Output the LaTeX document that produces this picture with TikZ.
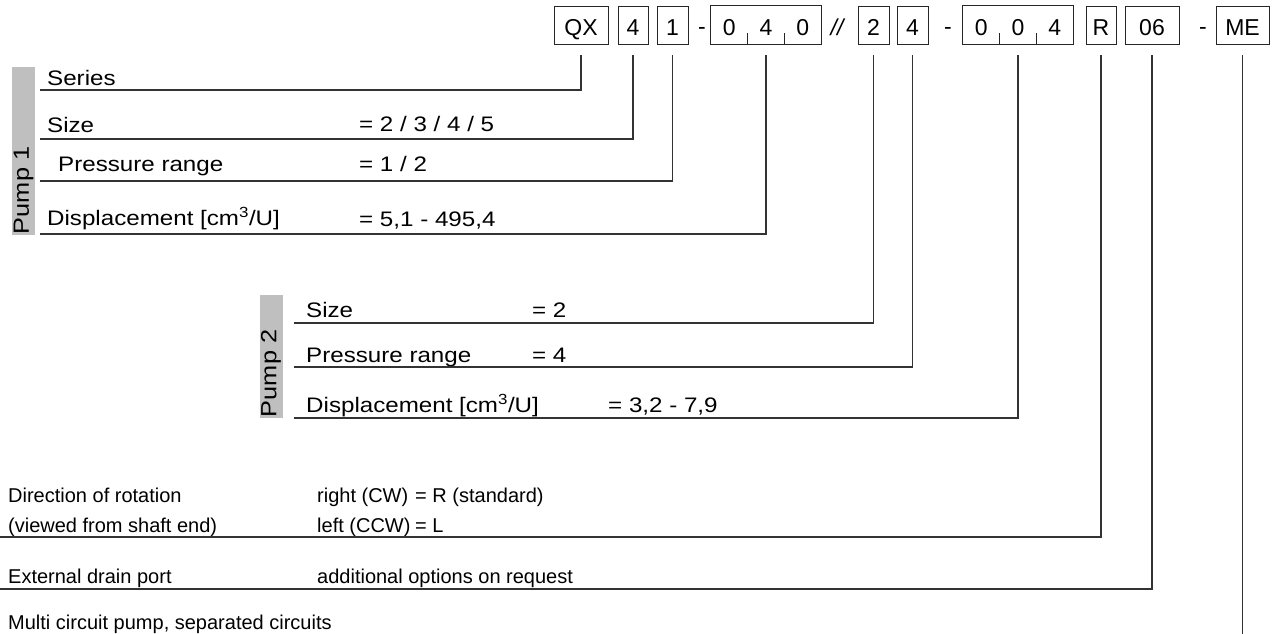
\documentclass[tikz,border=0pt]{standalone}
\usepackage{fontspec}
\setmainfont{Liberation Sans}
\newfontfamily\widefamily[FakeStretch=1.15]{Liberation Sans}
\usepackage{tikz}
\usetikzlibrary{positioning, calc}

\newcommand{\descfont}{\fontsize{20}{24}\selectfont}
\newcommand{\pumpfont}{\widefamily\fontsize{21}{25}\selectfont}
\newcommand{\tagfont}{\widefamily\fontsize{22}{26}\selectfont}
\newcommand{\codefont}{\fontsize{23}{27}\selectfont}

\begin{document}
\begin{tikzpicture}[
  x=1pt, y=-1pt,
  codebox/.style={draw=black!85, line width=0.9pt, minimum height=38pt, inner sep=0pt},
  digit/.style={minimum width=36.67pt, minimum height=38pt, inner sep=0pt},
  codetext/.style={anchor=base, inner sep=0pt, font=\codefont},
  desc/.style={anchor=base west, inner sep=0pt, font=\descfont},
  pdesc/.style={anchor=base west, inner sep=0pt, font=\pumpfont},
  leader/.style={draw=black!80, line width=1.1pt},
  pumpbar/.style={fill=black!25, rotate=90, minimum height=23pt, inner sep=1pt, align=left, font=\tagfont},
]
\useasboundingbox (0,0) rectangle (1272,634);

% Type code
\node[codebox, minimum width=54pt] (qx) at (581,25) {};
\node[codebox, minimum width=30pt] (sza) at (633,25) {};
\node[codebox, minimum width=31pt] (pra) at (672.5,25) {};
\node[codetext] (dasha) at (702,35) {-};
\foreach \x in {0,1,2} {
  \node[digit] (da\x) at (729.33+\x*36.67, 25) {};
}
\draw[draw=black!85, line width=0.9pt] (da0.north west) rectangle (da2.south east);
\foreach \x in {0,1} {
  \draw[draw=black!85, line width=0.9pt] (da\x.south east) -- ++(0,-11);
}
\node[codetext] (slash) at (838,36) {\textit{//}};
\node[codebox, minimum width=31pt] (szb) at (873.5,25) {};
\node[codebox, minimum width=31pt] (prb) at (912.5,25) {};
\node[codetext] (dashb) at (948,35) {-};
\foreach \x in {0,1,2} {
  \node[digit] (db\x) at (981.33+\x*36.67, 25) {};
}
\draw[draw=black!85, line width=0.9pt] (db0.north west) rectangle (db2.south east);
\foreach \x in {0,1} {
  \draw[draw=black!85, line width=0.9pt] (db\x.south east) -- ++(0,-11);
}
\node[codebox, minimum width=30pt] (rot) at (1101,25) {};
\node[codebox, minimum width=54pt] (drain) at (1152,25) {};
\node[codetext] (dashc) at (1203,35) {-};
\node[codebox, minimum width=53pt] (me) at (1242.5,25) {};

% box letters on a common baseline
\foreach \n/\val in {qx/QX,sza/4,pra/1,da0/0,da1/4,da2/0,szb/2,prb/4,db0/0,db1/0,db2/4,rot/R,drain/06,me/ME} {
  \node[codetext] at ([yshift=-11pt]\n.center) {\val};
}

% Pump 1
\node[pumpbar, text width=166pt] (pumpa) at (23.5,151) {Pump 1};
\node[pdesc] (series) at (47,85) {Series};
\node[pdesc] (sizea) at (47,132) {Size};
\node[pdesc] (sizeaval) at (359,131) {= 2 / 3 / 4 / 5};
\node[pdesc] (pressa) at (58,171) {Pressure range};
\node[pdesc] (pressaval) at (359,171) {= 1 / 2};
\node[pdesc] (dispa) at (47,225) {Displacement [cm\textsuperscript{3}/U]};
\node[pdesc] (dispaval) at (359,226) {= 5,1 - 495,4};
\coordinate (seriesL) at (40,90);
\coordinate (sizeaL) at (40,139);
\coordinate (pressaL) at (40,181);
\coordinate (dispaL) at (40,234);
\draw[leader] ([yshift=-11pt]qx.south) |- (seriesL);
\draw[leader] ([yshift=-11pt]sza.south) |- (sizeaL);
\draw[leader] ([yshift=-11pt]pra.south) |- (pressaL);
\draw[leader] ([yshift=-11pt]da1.south) |- (dispaL);

% Pump 2
\node[pumpbar, text width=121pt] (pumpb) at (271,356.5) {Pump 2};
\node[pdesc] (sizeb) at (306,317) {Size};
\node[pdesc] (sizebval) at (532,317) {= 2};
\node[pdesc] (pressb) at (306,362) {Pressure range};
\node[pdesc] (pressbval) at (532,362) {= 4};
\node[pdesc] (dispb) at (306,412) {Displacement [cm\textsuperscript{3}/U]};
\node[pdesc] (dispbval) at (608,412) {= 3,2 - 7,9};
\coordinate (sizebL) at (294,323);
\coordinate (pressbL) at (294,367);
\coordinate (dispbL) at (294,418);
\draw[leader] ([yshift=-11pt]szb.south) |- (sizebL);
\draw[leader] ([yshift=-11pt]prb.south) |- (pressbL);
\draw[leader] ([yshift=-11pt]db1.south) |- (dispbL);

% Options
\node[desc] (dir) at (8,502) {Direction of rotation};
\node[desc] (dirr) at (317,502) {right (CW)};
\node[desc] (dirrval) at (415,502) {= R (standard)};
\node[desc] (view) at (8,532) {(viewed from shaft end)};
\node[desc] (dirl) at (317,532) {left (CCW)};
\node[desc] (dirlval) at (415,532) {= L};
\node[desc] (ext) at (8,583) {External drain port};
\node[desc] (extval) at (317,583) {additional options on request};
\node[desc] (multi) at (8,629) {Multi circuit pump, separated circuits};
\coordinate (rotL) at (0,537);
\coordinate (drainL) at (0,589);
\coordinate (meEnd) at (1242.5,634);
\draw[leader] ([yshift=-11pt]rot.south) |- (rotL);
\draw[leader] ([yshift=-11pt]drain.south) |- (drainL);
\draw[leader] ([yshift=-11pt]me.south) -- (meEnd);
\end{tikzpicture}
\end{document}
